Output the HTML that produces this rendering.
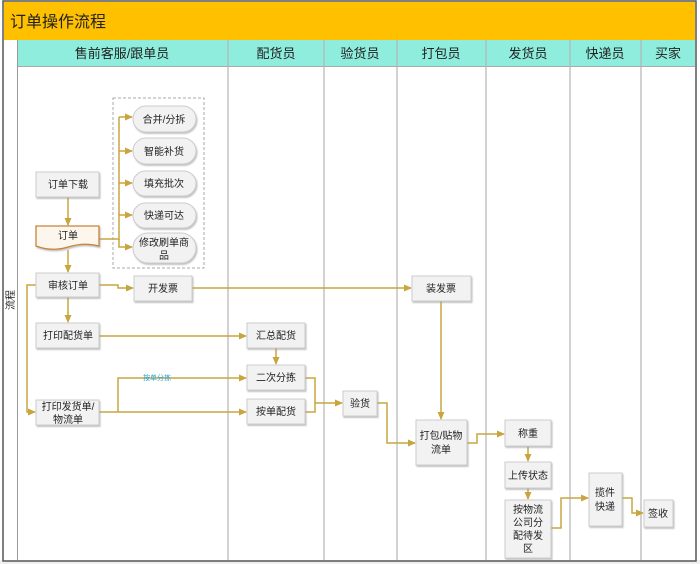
<!DOCTYPE html>
<html><head><meta charset="utf-8"><style>
html,body{margin:0;padding:0;background:#fff;width:700px;height:564px;overflow:hidden}
svg text{font-family:"Liberation Sans","Noto Sans CJK SC",sans-serif;}
</style></head><body>
<svg width="700" height="564" viewBox="0 0 700 564" xmlns="http://www.w3.org/2000/svg">
<defs>
<marker id="a" markerWidth="8" markerHeight="8" refX="7" refY="4" orient="auto" markerUnits="userSpaceOnUse"><path d="M0,0.5 L8,4 L0,7.5 z" fill="#c9a53e"/></marker>
<filter id="s" x="-10%" y="-10%" width="130%" height="140%"><feDropShadow dx="1" dy="1.5" stdDeviation="0.8" flood-color="#999" flood-opacity="0.6"/></filter>
</defs>
<rect x="0" y="560" width="700" height="4" fill="#f0f0f0"/>
<rect x="3" y="1" width="693" height="560" fill="#fff" stroke="#555" stroke-width="1.5"/>
<rect x="4" y="2" width="691" height="38" fill="#ffc000"/>
<text x="10" y="27" font-size="16" fill="#222">订单操作流程</text>
<rect x="17" y="40" width="678" height="26" fill="#8eeddc"/>
<line x1="17" y1="66.5" x2="695" y2="66.5" stroke="#aaa"/>
<line x1="17.5" y1="40" x2="17.5" y2="560" stroke="#999"/>
<g stroke="#b5b5b5" stroke-width="1.2">
<line x1="228" y1="40" x2="228" y2="560"/><line x1="324" y1="40" x2="324" y2="560"/>
<line x1="397" y1="40" x2="397" y2="560"/><line x1="486" y1="40" x2="486" y2="560"/>
<line x1="570" y1="40" x2="570" y2="560"/><line x1="641" y1="40" x2="641" y2="560"/>
</g>
<g font-size="13" fill="#222" text-anchor="middle">
<text x="122" y="58">售前客服/跟单员</text><text x="276" y="58">配货员</text>
<text x="360" y="58">验货员</text><text x="441" y="58">打包员</text>
<text x="528" y="58">发货员</text><text x="605" y="58">快递员</text><text x="668" y="58">买家</text>
</g>
<text transform="translate(14,300) rotate(-90)" font-size="10" fill="#222" text-anchor="middle">流程</text>
<rect x="113" y="98" width="91" height="170" fill="none" stroke="#aaa" stroke-dasharray="3,2"/>
<g fill="none" stroke="#c9a53e" stroke-width="1.5">
<path d="M99,239 H119 V117 M119,117 H132" marker-end="url(#a)"/>
<path d="M119,151 H132" marker-end="url(#a)"/>
<path d="M119,183 H132" marker-end="url(#a)"/>
<path d="M119,215 H132" marker-end="url(#a)"/>
<path d="M119,239 V247 H132" marker-end="url(#a)"/>
<path d="M68,197 V225" marker-end="url(#a)"/>
<path d="M68,250 V272" marker-end="url(#a)"/>
<path d="M68,297 V322" marker-end="url(#a)"/>
<path d="M36,285 H27 V412 H35" marker-end="url(#a)"/>
<path d="M99,285 H118 V288 H133" marker-end="url(#a)"/>
<path d="M192,288 H411" marker-end="url(#a)"/>
<path d="M99,336 H246" marker-end="url(#a)"/>
<path d="M276,348 V364" marker-end="url(#a)"/>
<path d="M99,412 H246" marker-end="url(#a)"/>
<path d="M118,412 V378 H246" marker-end="url(#a)"/>
<path d="M305,378 H315 V412 H305 M315,403 H342" marker-end="url(#a)"/>
<path d="M377,403 H387 V443 H415" marker-end="url(#a)"/>
<path d="M441,301 V419" marker-end="url(#a)"/>
<path d="M467,443 H477 V434 H504" marker-end="url(#a)"/>
<path d="M528,446 V461" marker-end="url(#a)"/>
<path d="M528,488 V499" marker-end="url(#a)"/>
<path d="M551,528 H561 V498 H588" marker-end="url(#a)"/>
<path d="M622,498 H632 V513 H643" marker-end="url(#a)"/>
</g>
<text x="157" y="380" font-size="7" fill="#2aa7d8" text-anchor="middle">按单分拣</text>
<g fill="#f2f2f2" stroke="#ccc" filter="url(#s)">
<rect x="36" y="172" width="63" height="25"/>
<path d="M36,226 H99 V246 Q84,242 68,247 Q52,252 36,246 Z" fill="#fdf6ec" stroke="#c8843a" stroke-width="1.3"/>
<rect x="36" y="273" width="63" height="24"/>
<rect x="134" y="276" width="58" height="25"/>
<rect x="36" y="323" width="63" height="25"/>
<rect x="36" y="400" width="63" height="25"/>
<rect x="247" y="323" width="58" height="25"/>
<rect x="247" y="365" width="58" height="25"/>
<rect x="247" y="399" width="58" height="25"/>
<rect x="343" y="391" width="34" height="25"/>
<rect x="412" y="276" width="59" height="25"/>
<rect x="416" y="420" width="51" height="45"/>
<rect x="505" y="420" width="46" height="26"/>
<rect x="505" y="462" width="46" height="26"/>
<rect x="505" y="500" width="46" height="58"/>
<rect x="589" y="473" width="33" height="53"/>
<rect x="644" y="500" width="29" height="27"/>
<rect x="133" y="106" width="63" height="26" rx="13"/>
<rect x="133" y="138" width="63" height="26" rx="13"/>
<rect x="133" y="171" width="63" height="25" rx="12.5"/>
<rect x="133" y="203" width="63" height="25" rx="12.5"/>
<rect x="133" y="233" width="63" height="30" rx="15"/>
</g>
<g font-size="10" fill="#222" text-anchor="middle">
<text x="68" y="188">订单下载</text><text x="68" y="239">订单</text>
<text x="68" y="289">审核订单</text><text x="163" y="292">开发票</text>
<text x="68" y="339">打印配货单</text>
<text x="68" y="410">打印发货单/</text><text x="68" y="423">物流单</text>
<text x="276" y="339">汇总配货</text><text x="276" y="381">二次分拣</text>
<text x="276" y="415">按单配货</text><text x="360" y="407">验货</text>
<text x="441" y="292">装发票</text>
<text x="441" y="439">打包/贴物</text><text x="441" y="453">流单</text>
<text x="528" y="437">称重</text><text x="528" y="479">上传状态</text>
<text x="528" y="513">按物流</text><text x="528" y="526">公司分</text><text x="528" y="539">配待发</text><text x="528" y="552">区</text>
<text x="605" y="496">揽件</text><text x="605" y="510">快递</text>
<text x="658" y="517">签收</text>
<text x="164" y="123">合并/分拆</text><text x="164" y="155">智能补货</text>
<text x="164" y="187">填充批次</text><text x="164" y="219">快递可达</text>
<text x="164" y="246">修改刷单商</text><text x="164" y="259">品</text>
</g>
</svg>
</body></html>
